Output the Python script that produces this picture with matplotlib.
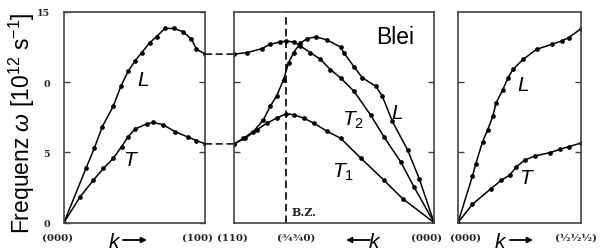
import matplotlib
matplotlib.use("Agg")
import matplotlib.pyplot as plt
from matplotlib.patches import ConnectionPatch
from matplotlib.transforms import ScaledTranslation

plt.rcParams['mathtext.fontset'] = 'custom'
plt.rcParams['mathtext.rm'] = 'Liberation Sans'
plt.rcParams['mathtext.it'] = 'Liberation Sans:italic'
plt.rcParams['font.family'] = ['Liberation Sans', 'DejaVu Sans']

# ---------------- data ----------------
# panel 1: (000) -> (100)
p1_L_x = [0, .155, .214, .271, .348, .402, .454, .501, .548, .607, .654, .713, .776, .842, .901, .936, 1.0]
p1_L_y = [0, 3.85, 5.29, 6.84, 8.28, 9.71, 10.79, 11.5, 12.1, 12.82, 13.25, 13.83, 13.83, 13.59, 13.06, 12.34, 12.0]
p1_T_x = [0, .113, .207, .278, .348, .407, .454, .501, .584, .631, .701, .784, .878, .936, 1.0]
p1_T_y = [0, 1.82, 3.01, 3.85, 4.57, 5.41, 6.12, 6.65, 7.03, 7.13, 6.96, 6.48, 6.08, 5.84, 5.6]

# panel 2: (110) -> (3/4 3/4 0) -> (000)
p2_L_x = [0, .047, .097, .147, .181, .214, .248, .273, .298, .332, .365, .412, .466, .533, .549, .600, .642, .709, .742, .792, .868, .926, 1.0]
p2_L_y = [5.6, 6.0, 6.48, 7.32, 8.28, 9.04, 10.19, 11.39, 12.11, 12.78, 13.11, 13.23, 13.0, 12.5, 12.1, 11.1, 10.31, 9.71, 8.99, 7.2, 5.17, 3.13, 0]
p2_T2_x = [0, .064, .139, .181, .231, .261, .298, .332, .382, .432, .482, .533, .600, .683, .750, .834, .901, 1.0]
p2_T2_y = [12.0, 12.1, 12.39, 12.7, 12.87, 12.92, 12.87, 12.58, 12.1, 11.63, 10.9, 10.3, 9.35, 7.66, 6.1, 4.31, 2.51, 0]
p2_T1_x = [0, .055, .114, .164, .214, .261, .298, .348, .399, .466, .533, .633, .750, .843, 1.0]
p2_T1_y = [5.6, 6.0, 6.6, 7.08, 7.44, 7.75, 7.68, 7.44, 7.08, 6.5, 6.0, 4.6, 3.01, 1.7, 0]
p2_bz = 0.26

# panel 3: (000) -> (1/2 1/2 1/2)
p3_L_x = [0, .118, .146, .201, .242, .284, .311, .366, .408, .449, .532, .642, .766, .848, .904, 1.0]
p3_L_y = [0, 3.3, 4.2, 5.77, 6.6, 7.56, 8.52, 9.47, 10.31, 10.91, 11.63, 12.34, 12.7, 12.94, 13.18, 13.78]
p3_T_x = [0, .118, .27, .353, .421, .477, .545, .628, .752, .835, .904, 1.0]
p3_T_y = [0, 1.3, 2.42, 3.01, 3.37, 3.97, 4.45, 4.74, 4.98, 5.22, 5.41, 5.65]

y_ticks = [0, 5, 10, 15]
y_ticklabels = ['0', '5', '0', '15']
p1_xlabels = ['(000)', '(100)']
p2_xlabels = ['(110)', '(¾¾0)', '(000)']
p3_xlabels = ['(000)', '(½½½)']

# ---------------- layout ----------------
W, H = 606, 253
fig = plt.figure(figsize=(W / 100, H / 100), dpi=100)


def box(l, r, t=13, b=223.5):
    return [l / W, 1 - b / H, (r - l) / W, (b - t) / H]


ax1 = fig.add_axes(box(64, 205.5))
ax2 = fig.add_axes(box(234, 434))
ax3 = fig.add_axes(box(458, 580.5))

serif = dict(family='DejaVu Serif', fontweight='bold', fontsize=7.4, color='#222')

for ax in (ax1, ax2, ax3):
    ax.set_xlim(0, 1)
    ax.set_ylim(0, 15)
    for s in ax.spines.values():
        s.set_linewidth(1.2)
        s.set_color('#444')
    ax.set_xticks([])
    ax.set_yticks([5, 10])
    ax.tick_params(axis='y', direction='in', length=4, width=1.0, color='#444',
                   left=True, right=True, labelleft=False)

ax1.set_yticks(y_ticks)
ax1.set_yticklabels(y_ticklabels, family='DejaVu Serif', fontweight='bold', fontsize=6.8, color='#222')
ax1.tick_params(axis='y', labelleft=True, pad=10)

line_kw = dict(color='black', lw=1.1, marker='o', markersize=3.4, markeredgewidth=0)
ax1.plot(p1_L_x, p1_L_y, **line_kw)
ax1.plot(p1_T_x, p1_T_y, **line_kw)
ax2.plot(p2_L_x, p2_L_y, **line_kw)
ax2.plot(p2_T2_x, p2_T2_y, **line_kw)
ax2.plot(p2_T1_x, p2_T1_y, **line_kw)
ax3.plot(p3_L_x, p3_L_y, **line_kw)
ax3.plot(p3_T_x, p3_T_y, **line_kw)

ax2.axvline(p2_bz, color='black', lw=1.2, ls=(0, (4.5, 2.5)))

# dashed connectors between panel 1 and panel 2
for ya, yb in ((p1_L_y[-1], p2_T2_y[0]), (p1_T_y[-1], p2_T1_y[0])):
    cp = ConnectionPatch(xyA=(1, ya), coordsA=ax1.transData, xyB=(0, yb), coordsB=ax2.transData,
                         color='black', lw=1.1, ls=(0, (4, 3)))
    fig.add_artist(cp)


# x tick-like labels
def xlab(ax, x, text, dx):
    tr = ax.get_xaxis_transform() + ScaledTranslation(dx / 100, -10.5 / 100, fig.dpi_scale_trans)
    ax.text(x, 0, text, transform=tr, ha='center', va='top', clip_on=False, **serif)


xlab(ax1, 0, p1_xlabels[0], -6)
xlab(ax1, 1, p1_xlabels[1], -8)
xlab(ax2, 0, p2_xlabels[0], -2)
xlab(ax2, p2_bz, p2_xlabels[1], 10)
xlab(ax2, 1, p2_xlabels[2], -7.5)
xlab(ax3, 0, p3_xlabels[0], 7.5)
xlab(ax3, 1, p3_xlabels[1], -4)

# B.Z. label
fig.text(292 / W, 1 - 216 / H, 'B.Z.', ha='left', va='baseline',
         family='DejaVu Serif', fontweight='bold', fontsize=8, color='#222')


def ftext(x, y, s, **kw):
    fig.text(x / W, 1 - y / H, s, ha='left', va='baseline', **kw)


curve_lab = dict(fontsize=15, fontstyle='italic', family='Liberation Sans')
ftext(137, 86, 'L', **curve_lab)
ftext(123, 166, 'T', **curve_lab)
ftext(391, 119, 'L', **curve_lab)
ftext(342, 126, r'$T_{\mathit{2}}$', fontsize=15)
ftext(332, 178, r'$T_{\mathit{1}}$', fontsize=15)
ftext(517, 91, 'L', **curve_lab)
ftext(519, 184, 'T', **curve_lab)
ftext(376, 44, 'Blei', fontsize=16.5, family='Liberation Sans')

# k arrows
ftext(109, 248.5, 'k', **curve_lab)
ftext(369, 248.5, 'k', **curve_lab)
ftext(495, 248.5, 'k', **curve_lab)
arrow_kw = dict(arrowstyle='-|>', lw=1.3, color='black', mutation_scale=8, shrinkA=0, shrinkB=0)
for x0, x1 in ((123, 147), (370, 346), (510, 533)):
    fig.add_artist(matplotlib.patches.FancyArrowPatch((x0 / W, 1 - 241 / H), (x1 / W, 1 - 241 / H),
                                                      transform=fig.transFigure, **arrow_kw))

# y label
fig.text(22 / W, 1 - 123 / H, r'Frequenz $\omega$ [10$^{12}$ s$^{-1}$]', rotation=90,
         ha='center', va='center', fontsize=16.5, family='Liberation Sans')

fig.savefig('out.png', dpi=100)
